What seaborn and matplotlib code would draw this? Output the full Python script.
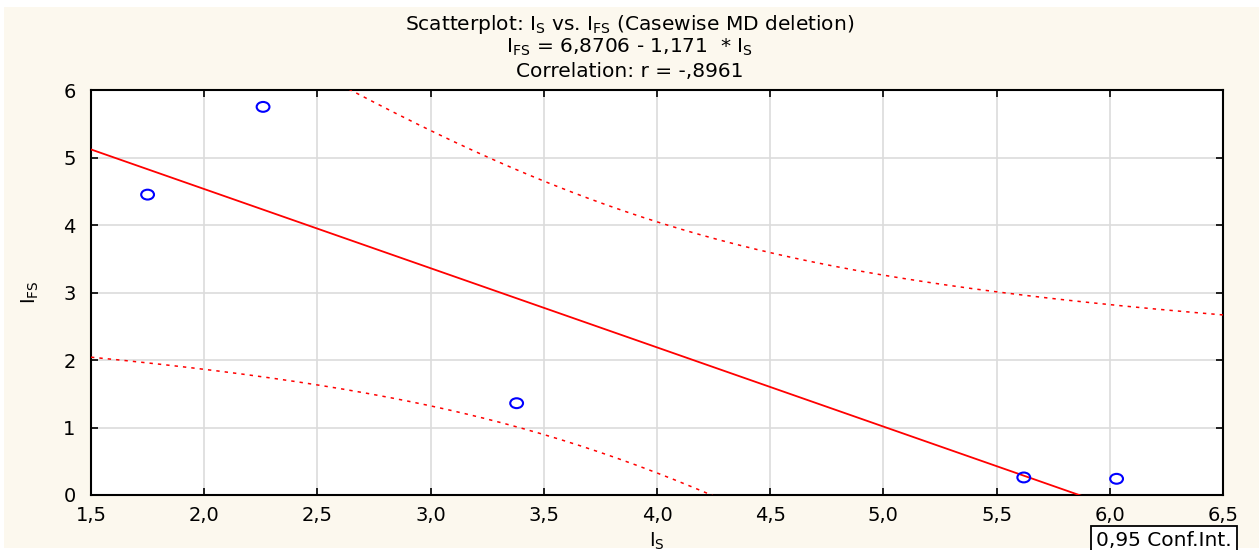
import numpy as np
import pandas as pd
import matplotlib
matplotlib.use("Agg")
import matplotlib.pyplot as plt
import seaborn as sns
from matplotlib.patches import Rectangle
from matplotlib.ticker import FuncFormatter
from matplotlib.path import Path
from matplotlib.transforms import Affine2D

# ---- data ----
i_s = [1.75, 2.26, 3.38, 5.62, 6.03]
i_fs = [4.45, 5.75, 1.36, 0.26, 0.24]
x_ticks = [1.5, 2.0, 2.5, 3.0, 3.5, 4.0, 4.5, 5.0, 5.5, 6.0, 6.5]
y_ticks = [0, 1, 2, 3, 4, 5, 6]
t_975_df3 = 3.182  # Student t quantile for 95% CI, n-2 = 3 df

sns.set_theme(style="white")
plt.rcParams['font.family'] = ['DejaVu Sans']
plt.rcParams['mathtext.fontset'] = 'dejavusans'

df = pd.DataFrame({"IS": i_s, "IFS": i_fs})

# regression and confidence band
x = np.array(i_s); y = np.array(i_fs)
b, a = np.polyfit(x, y, 1)
n = len(x)
resid = y - (a + b * x)
s = np.sqrt(np.sum(resid ** 2) / (n - 2))
sxx = np.sum((x - x.mean()) ** 2)
xg = np.linspace(1.5, 6.5, 300)
yg = a + b * xg
half = t_975_df3 * s * np.sqrt(1 / n + (xg - x.mean()) ** 2 / sxx)
band = pd.DataFrame({"x": xg, "fit": yg, "lo": yg - half, "hi": yg + half})

fig = plt.figure(figsize=(12.59, 5.50), dpi=100, facecolor="white")
bg = Rectangle((4 / 1259, 2 / 550), 1 - 4 / 1259, 1 - 9 / 550,
               transform=fig.transFigure, facecolor="#fcf8ee",
               edgecolor="none", zorder=-10)
fig.patches.append(bg)
ax = fig.add_axes([91 / 1259, 1 - 495 / 550, (1223 - 91) / 1259, (495 - 90) / 550])
ax.set_zorder(1)
ax.set_facecolor("white")

ax.grid(True, color="#dcdcdc", linewidth=1.2, zorder=0)
ax.set_axisbelow(True)

sns.lineplot(data=band, x="x", y="fit", ax=ax, color="#ff0000", linewidth=1.3, zorder=3)
sns.lineplot(data=band, x="x", y="lo", ax=ax, color="#ff0000", linewidth=1.1,
             linestyle=(0, (2.2, 3.3)), zorder=3)
sns.lineplot(data=band, x="x", y="hi", ax=ax, color="#ff0000", linewidth=1.1,
             linestyle=(0, (2.2, 3.3)), zorder=3)

circ = Path.unit_circle()
ellipse = Path(Affine2D().scale(1.3, 1.0).transform(circ.vertices), circ.codes)
sns.scatterplot(data=df, x="IS", y="IFS", ax=ax, marker=ellipse, s=85,
                facecolor="none", edgecolor="#0000ff", linewidth=1.5, zorder=4)

ax.set_xlim(1.5, 6.5)
ax.set_ylim(0, 6)
ax.set_xticks(x_ticks)
ax.set_yticks(y_ticks)
ax.xaxis.set_major_formatter(FuncFormatter(lambda v, p: f"{v:.1f}".replace(".", ",")))
ax.yaxis.set_major_formatter(FuncFormatter(lambda v, p: f"{int(round(v))}"))
ax.tick_params(axis="both", direction="in", length=5, width=1.2, color="black",
               labelsize=14, labelcolor="black", top=True, right=True,
               bottom=True, left=True)
ax.tick_params(axis="x", pad=8)
ax.tick_params(axis="y", pad=11)
for sp in ax.spines.values():
    sp.set_visible(True)
    sp.set_color("black")
    sp.set_linewidth(1.5)

ax.set_xlabel(r"I$_\mathrm{S}$", fontsize=14, color="black", labelpad=4)
ax.set_ylabel(r"I$_\mathrm{FS}$", fontsize=14, color="black", labelpad=16)

fig.text(0.5, 1 - 24 / 550, r"Scatterplot: I$_\mathrm{S}$ vs. I$_\mathrm{FS}$ (Casewise MD deletion)",
         ha="center", va="center", fontsize=14.5, color="black")
fig.text(0.5, 1 - 47 / 550, r"I$_\mathrm{FS}$ = 6,8706 - 1,171  * I$_\mathrm{S}$",
         ha="center", va="center", fontsize=14.5, color="black")
fig.text(0.5, 1 - 71 / 550, "Correlation: r = -,8961",
         ha="center", va="center", fontsize=14.5, color="black")

fig.text(1164 / 1259, 1 - 541 / 550, "0,95 Conf.Int.", ha="center", va="center",
         fontsize=14.5, color="black",
         bbox=dict(boxstyle="square,pad=0.25", facecolor="white", edgecolor="black", linewidth=1.3))

fig.savefig("out.png", dpi=100, facecolor=fig.get_facecolor())
